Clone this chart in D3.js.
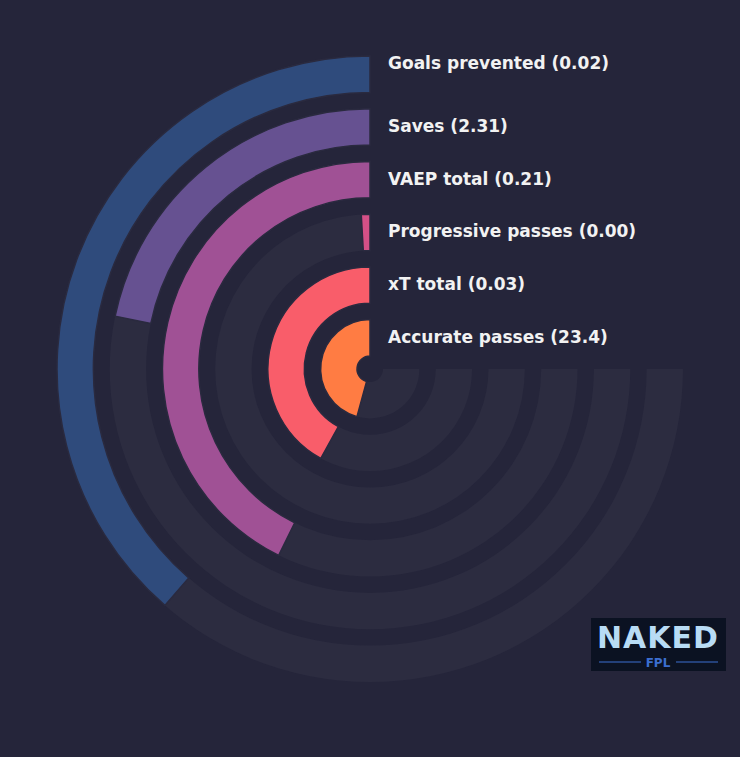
<!DOCTYPE html>
<html><head><meta charset="utf-8">
<script src="https://cdn.jsdelivr.net/npm/d3@7"></script>
<style>body{margin:0;background:#25253a;}svg{display:block}</style>
</head><body>
<script>
const metrics = ["Accurate passes (23.4)","xT total (0.03)","Progressive passes (0.00)","VAEP total (0.21)","Saves (2.31)","Goals prevented (0.02)"];
const percentiles = [61, 56, 1.2, 57, 29, 51.5];
const colors = ["#ff7c43","#f95d6a","#d45087","#a05195","#665191","#2f4b7c"];

const W=740,H=757,cx=370,cy=369;
const svg=d3.select("body").append("svg").attr("width",W).attr("height",H);
svg.append("rect").attr("width",W).attr("height",H).attr("fill","#25253a");
const g=svg.append("g").attr("transform",`translate(${cx},${cy})`);
const band=d3.scaleBand().domain(metrics).range([13,313]).paddingInner(0.31).paddingOuter(0);
const ang=d3.scaleLinear().domain([0,100]).range([0,-1.5*Math.PI]);
const arc=d3.arc().innerRadius(d=>band(d)).outerRadius(d=>band(d)+band.bandwidth());
metrics.forEach((m,i)=>{
  g.append("path").attr("d",arc.startAngle(0).endAngle(ang(100))(m)).attr("fill","#2c2c40");
});
metrics.forEach((m,i)=>{
  g.append("path").attr("d",arc.startAngle(0).endAngle(ang(percentiles[i]))(m))
   .attr("fill",colors[i]).attr("stroke","#2a2a3f").attr("stroke-width",1.5);
});
metrics.forEach((m,i)=>{
  g.append("text").attr("x",18).attr("y",-(band(m)+band.bandwidth()/2)+(i==5?-10:0))
   .attr("fill","#f2f2f2").attr("font-family","DejaVu Sans").attr("font-weight","bold")
   .attr("font-size",17).attr("dominant-baseline","middle").text(m);
});
const logo=svg.append("g").attr("transform","translate(591,618)");
logo.append("rect").attr("width",135).attr("height",53).attr("fill","#0b1222");
logo.append("text").attr("x",67).attr("y",30).attr("text-anchor","middle").attr("font-family","DejaVu Sans")
 .attr("font-weight","bold").attr("font-size",30).attr("fill","#b8dcf5").attr("letter-spacing",1).text("NAKED");
logo.append("line").attr("x1",8).attr("x2",50).attr("y1",44).attr("y2",44).attr("stroke","#3c6ed0");
logo.append("line").attr("x1",85).attr("x2",127).attr("y1",44).attr("y2",44).attr("stroke","#3c6ed0");
logo.append("text").attr("x",67).attr("y",49).attr("text-anchor","middle").attr("font-family","DejaVu Sans")
 .attr("font-weight","bold").attr("font-size",12).attr("fill","#3c6ed0").text("FPL");
</script>
</body></html>
